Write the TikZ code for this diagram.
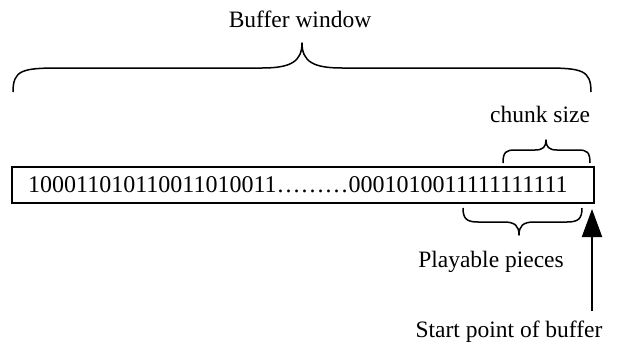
\documentclass[tikz,border=0pt]{standalone}
\usepackage{fontspec}
\setmainfont{Liberation Serif}
\usetikzlibrary{arrows.meta}
\begin{document}
\begin{tikzpicture}[x=1pt,y=-1pt,
  lbl/.style={inner sep=0pt,font=\fontsize{23.5}{27}\selectfont},
  brc/.style={line width=1.5pt,line join=round}]
\useasboundingbox (0,0) rectangle (618,343);
% big brace
\node[lbl,anchor=base] (bw) at (300,27) {Buffer window};
\draw[brc] (13,92) .. controls (13,70) and (22,68) .. (60,68) -- (262,68)
  .. controls (290,68) and (302,62) .. (302,43)
  .. controls (302,62) and (314,68) .. (342,68) -- (544,68)
  .. controls (582,68) and (591,70) .. (591,92);
% box
\node[draw,line width=2pt,minimum width=582pt,minimum height=36pt,inner sep=0pt] (box) at (303,185) {};
\node[inner sep=0pt,font=\fontsize{24}{28}\selectfont,anchor=base west] (bits) at (28,192) {100011010110011010011………0001010011111111111};
% chunk size
\node[lbl,anchor=base] (cs) at (540,122) {chunk size};
\draw[brc] (503,163) .. controls (503,152) and (506,150) .. (515,150) -- (535,150)
  .. controls (543,150) and (546,147) .. (546,140)
  .. controls (546,147) and (549,150) .. (557,150) -- (578,150)
  .. controls (587,150) and (590,152) .. (590,163);
% playable pieces
\draw[brc] (463,208) .. controls (463,219) and (467,222) .. (478,222) -- (504,222)
  .. controls (515,222) and (519,226) .. (519,235)
  .. controls (519,226) and (523,222) .. (534,222) -- (567,222)
  .. controls (578,222) and (582,219) .. (582,208);
\node[lbl,anchor=base] (pp) at (491,267) {Playable pieces};
% arrow
\node[lbl,anchor=base] (sp) at (509,337) {Start point of buffer};
\coordinate (atail) at (592,311);
\coordinate (ahead) at (592,209);
\draw[line width=2pt,-{Triangle[length=28pt,width=20pt]}] (atail) -- (ahead);
\end{tikzpicture}
\end{document}
